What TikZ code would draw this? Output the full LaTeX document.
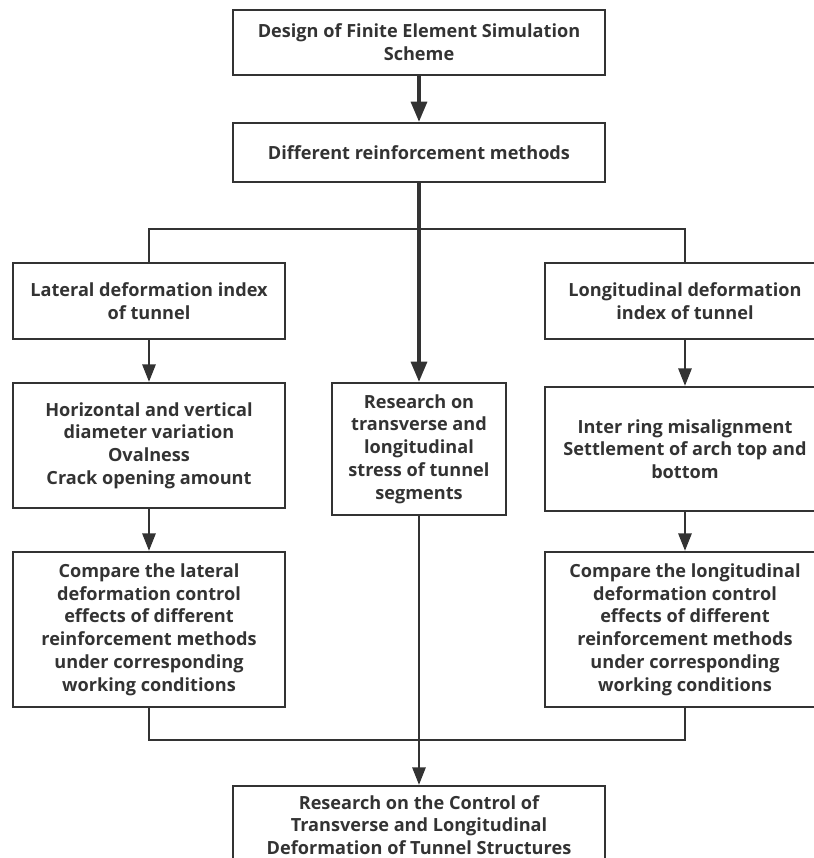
\documentclass[tikz,border=0pt]{standalone}
\usepackage{fontspec}
\setmainfont{Open Sans}
\usetikzlibrary{arrows.meta}
\definecolor{inkgray}{RGB}{51,51,51}

\begin{document}
\begin{tikzpicture}[x=0.75pt,y=0.75pt,yscale=-1,xscale=1,
  box/.style={draw=inkgray,line width=1.9pt,align=center,inner sep=0pt,
    text=inkgray,font=\fontsize{13.6}{17.1}\selectfont\bfseries},
  thin/.style={draw=inkgray,line width=1.3pt},
  thick/.style={draw=inkgray,line width=2.3pt},
  tip/.style={-{Triangle[length=13pt,width=10pt]}},
  bigtip/.style={-{Triangle[length=15pt,width=12pt]}}]
\useasboundingbox (0,0) rectangle (814,858);
\clip (0,0) rectangle (814,858);

%Shape: Rectangle [top row]
\node[box,minimum width=279pt,minimum height=48.75pt] (design) at (419,42.5) {Design of Finite Element Simulation\\Scheme};
\node[box,minimum width=279pt,minimum height=44.25pt] (methods) at (419,152.5) {Different reinforcement methods};

%Shape: Rectangle [index boxes]
\node[box,minimum width=204pt,minimum height=57pt] (lateral) at (149,301) {Lateral deformation index\\of tunnel};
\node[box,minimum width=210pt,minimum height=57pt] (longit) at (685,301) {Longitudinal deformation\\index of tunnel};

%Shape: Rectangle [middle row]
\node[box,minimum width=204pt,minimum height=93.75pt] (hv) at (149,445.5) {Horizontal and vertical\\diameter variation\\Ovalness\\Crack opening amount};
\node[box,minimum width=130.5pt,minimum height=99pt] (stress) at (419,449) {Research on\\transverse and\\longitudinal\\stress of tunnel\\segments};
\node[box,minimum width=210pt,minimum height=93pt] (ring) at (685,449) {Inter ring misalignment\\Settlement of arch top and\\bottom};

%Shape: Rectangle [compare boxes]
\node[box,minimum width=204pt,minimum height=116.25pt] (cmplat) at (149,629.5) {Compare the lateral\\deformation control\\effects of different\\reinforcement methods\\under corresponding\\working conditions};
\node[box,minimum width=210pt,minimum height=116.25pt] (cmplong) at (685,629.5) {Compare the longitudinal\\deformation control\\effects of different\\reinforcement methods\\under corresponding\\working conditions};

%Shape: Rectangle [result]
\node[box,minimum width=279pt,minimum height=58.5pt] (result) at (419,825) {Research on the Control of\\Transverse and Longitudinal\\Deformation of Tunnel Structures};

%Straight Lines [branch and merge points]
\coordinate (split) at (419,229);
\coordinate (merge) at (419,740);

\draw[thick,bigtip] (design) -- (methods);
\draw[thick,bigtip] (methods) -- (stress);
\draw[thin] (split) -| (lateral.north);
\draw[thin] (split) -| (longit.north);
\draw[thin,tip] (lateral) -- (hv);
\draw[thin,tip] (hv) -- (cmplat);
\draw[thin,tip] (longit) -- (ring);
\draw[thin,tip] (ring) -- (cmplong);
\draw[thin] (cmplat.south) |- (merge);
\draw[thin] (cmplong.south) |- (merge);
\draw[thin,tip] (stress) -- (result);
\end{tikzpicture}
\end{document}
